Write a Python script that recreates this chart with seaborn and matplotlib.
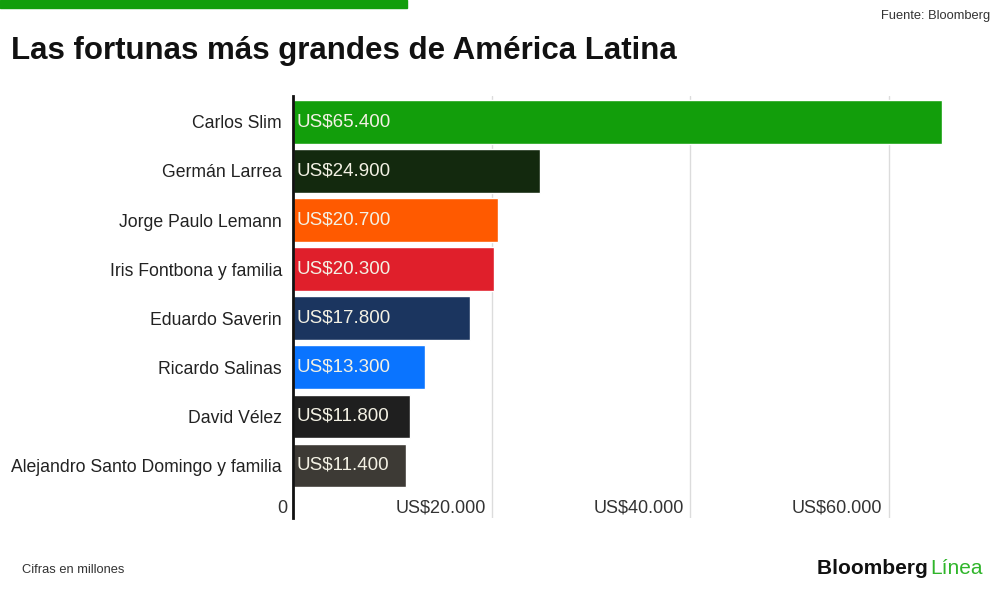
import pandas as pd
import matplotlib.pyplot as plt
import matplotlib.transforms as mtransforms
import seaborn as sns

# Datos (millones de US$)
names = [
    "Carlos Slim",
    "Germán Larrea",
    "Jorge Paulo Lemann",
    "Iris Fontbona y familia",
    "Eduardo Saverin",
    "Ricardo Salinas",
    "David Vélez",
    "Alejandro Santo Domingo y familia",
]
fortunes = [65400, 24900, 20700, 20300, 17800, 13300, 11800, 11400]
bar_colors = ["#129e0b", "#13290e", "#ff5a00", "#e01f2b",
              "#1b355f", "#0a74ff", "#1f1f1f", "#3d3a35"]
tick_values = [0, 20000, 40000, 60000]
tick_labels = ["0", "US$20.000", "US$40.000", "US$60.000"]

df = pd.DataFrame({"name": names, "fortune": fortunes})

sns.set_style("white")
plt.rcParams["font.family"] = ["Liberation Sans", "DejaVu Sans"]

fig = plt.figure(figsize=(10, 5.89), dpi=100)
ax = fig.add_axes([0.293, 0.1205, 0.665, 0.7165])

sns.barplot(data=df, x="fortune", y="name", hue="name", palette=bar_colors,
            width=0.88, saturation=1, legend=False, ax=ax)

ax.set_xlim(0, 67000)
ax.set_ylim(7 + 1.08, -0.53)
ax.set_xlabel("")
ax.set_ylabel("")

# Gridlines
for v in tick_values[1:]:
    ax.axvline(v, color="#dcdcdc", lw=1, zorder=0)

for s in ["top", "right", "bottom"]:
    ax.spines[s].set_visible(False)
ax.spines["left"].set_color("#111111")
ax.spines["left"].set_linewidth(2)
ax.spines["left"].set_zorder(5)

ax.tick_params(axis="y", length=0, pad=8, labelsize=12.7, labelcolor="#222222")
ax.set_xticks(tick_values)
ax.set_xticklabels(tick_labels)
ax.tick_params(axis="x", length=0, pad=-13, labelsize=13, labelcolor="#333333")
offset = mtransforms.ScaledTranslation(-6 / 100, 0, fig.dpi_scale_trans)
for lab in ax.get_xticklabels():
    lab.set_horizontalalignment("right")
    lab.set_transform(lab.get_transform() + offset)
    lab.set_zorder(6)

# Value labels inside bars
for i, v in enumerate(fortunes):
    ax.text(400, i, "US$" + f"{v:,}".replace(",", "."), va="center", ha="left",
            fontsize=13.5, color="#f3f1e4", zorder=6)

# Top green strip
fig.add_artist(plt.Rectangle((0, 1 - 8 / 589), 0.407, 8 / 589,
                             transform=fig.transFigure, color="#129e0b"))

fig.text(0.011, 0.914, "Las fortunas más grandes de América Latina",
         fontsize=22.5, fontweight="bold", color="#111111", va="center")
fig.text(0.99, 0.972, "Fuente: Bloomberg", fontsize=9.3, color="#333333",
         ha="right", va="center")
fig.text(0.022, 0.032, "Cifras en millones", fontsize=9.3, color="#333333",
         va="center")
t = fig.text(0.817, 0.034, "Bloomberg ", fontsize=15, fontweight="bold",
             color="#111111", va="center")
fig.canvas.draw()
bb = t.get_window_extent()
fig.text(bb.x1 / fig.bbox.width - 0.003, 0.034, "Línea", fontsize=15,
         color="#2fb52a", va="center")

fig.savefig("out.png", dpi=100)
plt.close(fig)
